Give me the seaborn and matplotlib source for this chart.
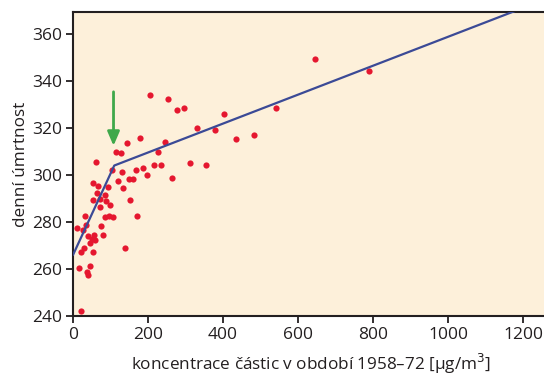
import matplotlib
matplotlib.use("Agg")
import matplotlib.pyplot as plt
import seaborn as sns
import pandas as pd

# particle concentration (µg/m3) and daily mortality
conc = [205.7, 253.4, 278.5, 294.7, 401.6, 330.6, 379.0, 435.8, 482.5, 179.7,
        142.9, 246.0, 225.5, 115.0, 126.7, 61.0, 215.6, 233.6, 311.8, 355.0,
        104.2, 129.4, 168.0, 186.0, 196.8, 148.2, 159.0, 265.0, 120.4, 134.0,
        53.9, 66.5, 94.3, 62.9, 86.3, 53.9, 71.0, 88.0, 152.7, 99.7,
        71.0, 85.4, 97.0, 107.8, 171.6, 32.3, 10.8, 26.0, 74.6, 35.0,
        80.9, 41.3, 50.3, 54.8, 45.8, 57.5, 30.5, 22.4, 52.0, 138.4,
        17.0, 45.0, 38.6, 40.4, 22.4, 540.0, 646.0, 789.0]
mort = [334.1, 332.3, 327.6, 328.5, 325.9, 320.0, 319.2, 315.2, 317.2, 316.0,
        313.7, 314.0, 309.7, 310.0, 309.3, 305.8, 304.3, 304.5, 305.1, 304.4,
        302.0, 301.3, 302.0, 302.9, 299.9, 298.4, 298.4, 298.8, 297.4, 294.6,
        296.6, 295.3, 295.0, 292.2, 291.7, 289.6, 289.8, 289.2, 289.3, 287.2,
        286.3, 282.0, 282.8, 282.0, 282.7, 282.7, 277.5, 276.6, 278.4, 278.7,
        274.5, 274.0, 273.0, 274.6, 270.9, 272.2, 268.9, 267.1, 267.2, 268.8,
        260.4, 261.4, 258.7, 257.6, 242.3, 328.8, 349.3, 344.4]

# piecewise fit line
fit_x = [0, 110, 1270]
fit_y = [266.0, 304.1, 375.6]

# arrow marking the breakpoint
arrow_x = 108
arrow_y_start = 335.5
arrow_y_end = 312.5

xticks = [0, 200, 400, 600, 800, 1000, 1200]
yticks = [240, 260, 280, 300, 320, 340, 360]

sns.set_theme(style="ticks")
plt.rcParams['font.family'] = ['Open Sans', 'DejaVu Sans']

fig = plt.figure(figsize=(5.44, 3.74), dpi=100)
ax = fig.add_axes([73/544, 1 - 316/374, 1 - 73/544 + 0.01, (316 - 12)/374])
ax.set_facecolor("#FDF0DA")

df = pd.DataFrame({"x": conc, "y": mort})
sns.scatterplot(data=df, x="x", y="y", ax=ax, color="#E5172F", s=20,
                linewidth=0, zorder=3)
sns.lineplot(x=fit_x, y=fit_y, ax=ax, color="#3B4A96", linewidth=1.6,
             zorder=4, sort=False)

ax.annotate("", xy=(arrow_x, arrow_y_end), xytext=(arrow_x, arrow_y_start),
            arrowprops=dict(arrowstyle="-|>,head_length=0.7,head_width=0.3",
                            color="#3FA84A", lw=2.0, shrinkA=0, shrinkB=0),
            zorder=5)

ax.set_xlim(0, 1270)
ax.set_ylim(240, 369.5)
ax.set_xticks(xticks)
ax.set_yticks(yticks)
ax.tick_params(axis="both", direction="out", length=5, width=1.3,
               labelsize=12.5, colors="#231F20", pad=3)
for side in ["left", "bottom", "top"]:
    ax.spines[side].set_color("#231F20")
    ax.spines[side].set_linewidth(1.5)
ax.spines["right"].set_visible(False)

ax.set_xlabel("koncentrace částic v období 1958–72 [µg/m$^3$]", fontsize=12.3,
              color="#231F20", labelpad=6)
ax.set_ylabel("denní úmrtnost", fontsize=12.3, color="#231F20", labelpad=2)

fig.savefig("out.png", dpi=100)
